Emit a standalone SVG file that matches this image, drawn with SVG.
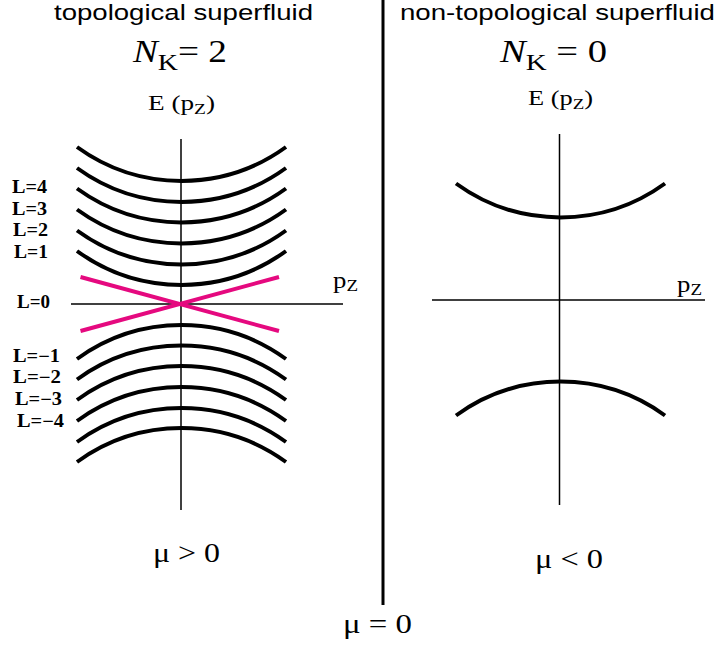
<svg xmlns="http://www.w3.org/2000/svg" width="718" height="648" viewBox="0 0 718 648">
<style>
.title{font-family:"Liberation Sans",Arial,sans-serif;font-size:22px;fill:#000}
.serif{font-family:"Liberation Serif","Times New Roman",serif;fill:#000}
.lab{font-family:"Liberation Serif","Times New Roman",serif;font-weight:bold;font-size:18px;fill:#000}
.band{fill:none;stroke:#000;stroke-width:4}
.dirac{fill:none;stroke:#E5097F;stroke-width:4}
.axis{fill:none;stroke:#000;stroke-width:1.5}
</style>
<rect width="718" height="648" fill="#fff"/>
<g id="divider"><line x1="383" y1="0" x2="383" y2="605" stroke="#000" stroke-width="3"/></g>
<g id="titles">
<text class="title" x="54" y="20" textLength="259" lengthAdjust="spacingAndGlyphs">topological superfluid</text>
<text class="title" x="400" y="20" textLength="315" lengthAdjust="spacingAndGlyphs">non-topological superfluid</text>
<text class="serif" x="133" y="62" font-size="32" textLength="94" lengthAdjust="spacingAndGlyphs"><tspan font-style="italic">N</tspan><tspan font-size="24" dy="8">K</tspan><tspan dy="-8">= 2</tspan></text>
<text class="serif" x="500" y="62" font-size="32" textLength="107" lengthAdjust="spacingAndGlyphs"><tspan font-style="italic">N</tspan><tspan font-size="24" dy="8">K</tspan><tspan dy="-8"> = 0</tspan></text>
</g>
<g id="left-plot">
<g id="left-axes">
<line class="axis" x1="181" y1="139" x2="181" y2="510"/>
<line class="axis" x1="71" y1="304" x2="343" y2="304"/>
<text class="serif" x="148" y="110" font-size="21" textLength="67" lengthAdjust="spacingAndGlyphs">E (p<tspan font-size="15" dy="4">Z</tspan><tspan dy="-4">)</tspan></text>
<text class="serif" x="333" y="288" font-size="24" textLength="25" lengthAdjust="spacingAndGlyphs">p<tspan font-size="17" dy="3">Z</tspan></text>
</g>
<g id="left-upper-bands">
<path class="band" d="M77 147 A178 178 0 0 0 286 147"/>
<path class="band" d="M77 168 A178 178 0 0 0 286 168"/>
<path class="band" d="M77 188.5 A178 178 0 0 0 286 188.5"/>
<path class="band" d="M77 209.5 A178 178 0 0 0 286 209.5"/>
<path class="band" d="M77 230.5 A178 178 0 0 0 286 230.5"/>
<path class="band" d="M77 251 A178 178 0 0 0 286 251"/>
</g>
<g id="left-lower-bands">
<path class="band" d="M77 359 A178 178 0 0 1 286 359"/>
<path class="band" d="M77 379.5 A178 178 0 0 1 286 379.5"/>
<path class="band" d="M77 400 A178 178 0 0 1 286 400"/>
<path class="band" d="M77 421 A178 178 0 0 1 286 421"/>
<path class="band" d="M77 442 A178 178 0 0 1 286 442"/>
<path class="band" d="M77 462 A178 178 0 0 1 286 462"/>
</g>
<g id="dirac-cone">
<line class="dirac" x1="80.5" y1="277" x2="279" y2="331"/>
<line class="dirac" x1="80.5" y1="331" x2="279" y2="277"/>
</g>
<g id="L-labels">
<text class="lab" x="12" y="193" textLength="35" lengthAdjust="spacingAndGlyphs">L=4</text>
<text class="lab" x="12" y="215" textLength="35" lengthAdjust="spacingAndGlyphs">L=3</text>
<text class="lab" x="13" y="236" textLength="35" lengthAdjust="spacingAndGlyphs">L=2</text>
<text class="lab" x="14" y="258" textLength="34" lengthAdjust="spacingAndGlyphs">L=1</text>
<text class="lab" x="17" y="308" textLength="33" lengthAdjust="spacingAndGlyphs">L=0</text>
<text class="lab" x="13" y="362" textLength="47" lengthAdjust="spacingAndGlyphs">L=−1</text>
<text class="lab" x="13" y="383" textLength="48" lengthAdjust="spacingAndGlyphs">L=−2</text>
<text class="lab" x="15" y="405" textLength="47" lengthAdjust="spacingAndGlyphs">L=−3</text>
<text class="lab" x="17" y="427" textLength="47" lengthAdjust="spacingAndGlyphs">L=−4</text>
</g>
<text class="serif" x="153" y="562" font-size="28" textLength="67" lengthAdjust="spacingAndGlyphs">μ &gt; 0</text>
</g>
<g id="right-plot">
<g id="right-axes">
<line class="axis" x1="559.5" y1="134" x2="559.5" y2="505"/>
<line class="axis" x1="432" y1="300" x2="705" y2="300"/>
<text class="serif" x="528" y="105" font-size="21" textLength="65" lengthAdjust="spacingAndGlyphs">E (p<tspan font-size="15" dy="4">Z</tspan><tspan dy="-4">)</tspan></text>
<text class="serif" x="677" y="292" font-size="24" textLength="25" lengthAdjust="spacingAndGlyphs">p<tspan font-size="17" dy="3">Z</tspan></text>
</g>
<g id="right-upper-band"><path class="band" d="M456 183.5 A178 178 0 0 0 665 183.5"/></g>
<g id="right-lower-band"><path class="band" d="M456 415.5 A178 178 0 0 1 665 415.5"/></g>
<text class="serif" x="535" y="568" font-size="28" textLength="68" lengthAdjust="spacingAndGlyphs">μ &lt; 0</text>
</g>
<g id="mu-zero"><text class="serif" x="343" y="633" font-size="28" textLength="69" lengthAdjust="spacingAndGlyphs">μ = 0</text></g>
</svg>
